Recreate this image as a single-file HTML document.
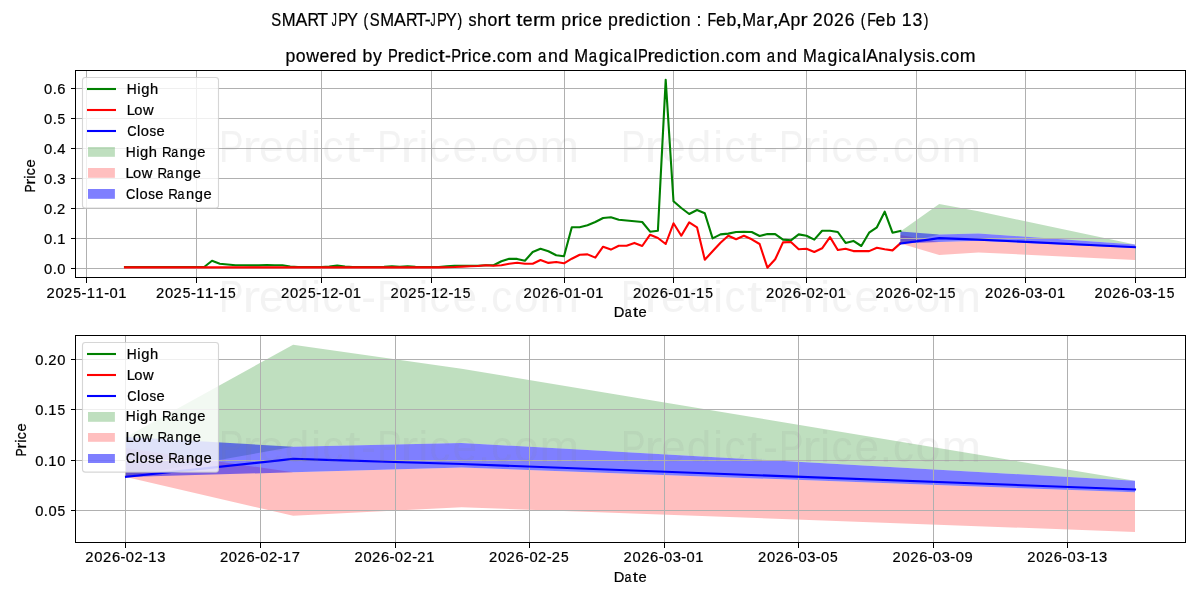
<!DOCTYPE html>
<html><head><meta charset="utf-8"><title>SMART JPY prediction</title>
<style>html,body{margin:0;padding:0;background:#fff;}svg{display:block;}text{font-family:"Liberation Sans", sans-serif;}</style></head><body>
<svg width="1200" height="600" viewBox="0 0 1200 600" style="will-change:transform">
<rect x="0" y="0" width="1200" height="600" fill="#fff"/>
<text x="271.23 281.63 295.51 307.41 317.13 327.59 331.85 338.20 347.05 357.60 363.44 369.80 380.20 394.08 405.98 415.70 424.70 430.53 436.89 445.73 457.53 462.77 468.51 477.10 487.45 497.53 504.38 510.79 516.19 522.85 532.93 539.63 555.57 561.34 571.51 578.62 583.08 592.27 602.25 608.02 618.19 624.81 635.07 645.71 650.18 659.22 666.00 670.45 680.84 690.97 696.61 701.86 707.61 716.05 726.51 735.88 742.15 756.59 766.51 772.54 778.34 790.39 800.56 807.31 812.76 823.56 833.92 844.72 854.91 860.76 867.15 875.59 886.06 896.13 901.71 912.41 923.83" y="25.60" font-size="17.66" stroke="#000" stroke-width="0.22"><tspan textLength="9.91" lengthAdjust="spacingAndGlyphs">S</tspan><tspan textLength="13.84" lengthAdjust="spacingAndGlyphs">M</tspan>A<tspan textLength="11.51" lengthAdjust="spacingAndGlyphs">R</tspan>T <tspan textLength="5.05" lengthAdjust="spacingAndGlyphs">J</tspan><tspan textLength="9.83" lengthAdjust="spacingAndGlyphs">P</tspan><tspan textLength="10.97" lengthAdjust="spacingAndGlyphs">Y</tspan> <tspan textLength="4.69" lengthAdjust="spacingAndGlyphs">(</tspan><tspan textLength="9.91" lengthAdjust="spacingAndGlyphs">S</tspan><tspan textLength="13.84" lengthAdjust="spacingAndGlyphs">M</tspan>A<tspan textLength="11.51" lengthAdjust="spacingAndGlyphs">R</tspan>T-<tspan textLength="5.05" lengthAdjust="spacingAndGlyphs">J</tspan><tspan textLength="9.83" lengthAdjust="spacingAndGlyphs">P</tspan><tspan textLength="10.97" lengthAdjust="spacingAndGlyphs">Y</tspan><tspan textLength="4.69" lengthAdjust="spacingAndGlyphs">)</tspan> <tspan textLength="7.99" lengthAdjust="spacingAndGlyphs">s</tspan>ho<tspan textLength="7.11" lengthAdjust="spacingAndGlyphs">r</tspan><tspan textLength="6.19" lengthAdjust="spacingAndGlyphs">t</tspan> <tspan textLength="6.19" lengthAdjust="spacingAndGlyphs">t</tspan>e<tspan textLength="7.11" lengthAdjust="spacingAndGlyphs">r</tspan><tspan textLength="15.82" lengthAdjust="spacingAndGlyphs">m</tspan> p<tspan textLength="7.11" lengthAdjust="spacingAndGlyphs">r</tspan>i<tspan textLength="8.36" lengthAdjust="spacingAndGlyphs">c</tspan>e p<tspan textLength="7.11" lengthAdjust="spacingAndGlyphs">r</tspan>edi<tspan textLength="8.36" lengthAdjust="spacingAndGlyphs">c</tspan><tspan textLength="6.19" lengthAdjust="spacingAndGlyphs">t</tspan>ion : <tspan textLength="8.73" lengthAdjust="spacingAndGlyphs">F</tspan>eb<tspan textLength="6.38" lengthAdjust="spacingAndGlyphs">,</tspan><tspan textLength="13.84" lengthAdjust="spacingAndGlyphs">M</tspan><tspan textLength="8.34" lengthAdjust="spacingAndGlyphs">a</tspan><tspan textLength="7.11" lengthAdjust="spacingAndGlyphs">r</tspan><tspan textLength="6.38" lengthAdjust="spacingAndGlyphs">,</tspan>Ap<tspan textLength="7.11" lengthAdjust="spacingAndGlyphs">r</tspan> 2026 <tspan textLength="4.69" lengthAdjust="spacingAndGlyphs">(</tspan><tspan textLength="8.73" lengthAdjust="spacingAndGlyphs">F</tspan>eb 13<tspan textLength="4.69" lengthAdjust="spacingAndGlyphs">)</tspan></text>
<text x="285.47 295.73 306.13 319.54 329.61 336.23 346.48 356.75 362.51 373.09 382.41 388.12 397.52 404.14 414.39 425.02 429.49 438.53 445.00 451.35 460.75 467.85 472.31 481.49 491.65 496.95 506.07 516.30 532.23 537.88 548.10 558.51 568.78 574.33 588.76 598.86 609.49 613.95 623.24 633.41 638.10 647.50 654.12 664.37 675.00 679.47 688.51 695.27 699.72 710.10 720.41 725.72 734.83 745.06 761.00 766.64 776.87 787.27 797.54 803.09 817.52 827.62 838.25 842.71 852.00 862.18 866.25 878.21 888.70 898.87 903.65 913.43 921.99 926.70 935.09 940.39 949.51 959.74" y="61.60" font-size="17.66" stroke="#000" stroke-width="0.22">powe<tspan textLength="7.11" lengthAdjust="spacingAndGlyphs">r</tspan>ed by <tspan textLength="9.83" lengthAdjust="spacingAndGlyphs">P</tspan><tspan textLength="7.11" lengthAdjust="spacingAndGlyphs">r</tspan>edi<tspan textLength="8.36" lengthAdjust="spacingAndGlyphs">c</tspan><tspan textLength="6.19" lengthAdjust="spacingAndGlyphs">t</tspan>-<tspan textLength="9.83" lengthAdjust="spacingAndGlyphs">P</tspan><tspan textLength="7.11" lengthAdjust="spacingAndGlyphs">r</tspan>i<tspan textLength="8.36" lengthAdjust="spacingAndGlyphs">c</tspan>e.<tspan textLength="8.36" lengthAdjust="spacingAndGlyphs">c</tspan>o<tspan textLength="15.82" lengthAdjust="spacingAndGlyphs">m</tspan> <tspan textLength="8.34" lengthAdjust="spacingAndGlyphs">a</tspan>nd <tspan textLength="13.84" lengthAdjust="spacingAndGlyphs">M</tspan><tspan textLength="8.34" lengthAdjust="spacingAndGlyphs">a</tspan>gi<tspan textLength="8.36" lengthAdjust="spacingAndGlyphs">c</tspan><tspan textLength="8.34" lengthAdjust="spacingAndGlyphs">a</tspan>l<tspan textLength="9.83" lengthAdjust="spacingAndGlyphs">P</tspan><tspan textLength="7.11" lengthAdjust="spacingAndGlyphs">r</tspan>edi<tspan textLength="8.36" lengthAdjust="spacingAndGlyphs">c</tspan><tspan textLength="6.19" lengthAdjust="spacingAndGlyphs">t</tspan>ion.<tspan textLength="8.36" lengthAdjust="spacingAndGlyphs">c</tspan>o<tspan textLength="15.82" lengthAdjust="spacingAndGlyphs">m</tspan> <tspan textLength="8.34" lengthAdjust="spacingAndGlyphs">a</tspan>nd <tspan textLength="13.84" lengthAdjust="spacingAndGlyphs">M</tspan><tspan textLength="8.34" lengthAdjust="spacingAndGlyphs">a</tspan>gi<tspan textLength="8.36" lengthAdjust="spacingAndGlyphs">c</tspan><tspan textLength="8.34" lengthAdjust="spacingAndGlyphs">a</tspan>lAn<tspan textLength="8.34" lengthAdjust="spacingAndGlyphs">a</tspan>ly<tspan textLength="7.99" lengthAdjust="spacingAndGlyphs">s</tspan>i<tspan textLength="7.99" lengthAdjust="spacingAndGlyphs">s</tspan>.<tspan textLength="8.36" lengthAdjust="spacingAndGlyphs">c</tspan>o<tspan textLength="15.82" lengthAdjust="spacingAndGlyphs">m</tspan></text>
<clipPath id="c1"><rect x="75.5" y="70.5" width="1110.00" height="207.00"/></clipPath>
<clipPath id="c2"><rect x="75.5" y="335.5" width="1110.00" height="207.00"/></clipPath>
<g clip-path="url(#c1)">
<polygon points="900.4,231.6 939.2,204.1 978.4,211.2 1135.0,244.6 1135.0,244.6 978.4,233.4 939.2,234.5 900.4,243.4" fill="rgb(0,128,0)" fill-opacity="0.25"/>
<polygon points="900.4,234.9 939.2,242.1 978.4,240.7 1135.0,248.1 1135.0,259.9 978.4,252.5 939.2,255.1 900.4,243.5" fill="rgb(255,0,0)" fill-opacity="0.25"/>
<polygon points="900.4,231.6 939.2,234.5 978.4,233.4 1135.0,244.6 1135.0,248.1 978.4,240.7 939.2,242.1 900.4,243.5" fill="rgb(0,0,255)" fill-opacity="0.5"/>
</g>
<line x1="86.5" y1="70.5" x2="86.5" y2="277.5" stroke="#b0b0b0" stroke-width="1.0" shape-rendering="crispEdges"/>
<line x1="196.5" y1="70.5" x2="196.5" y2="277.5" stroke="#b0b0b0" stroke-width="1.0" shape-rendering="crispEdges"/>
<line x1="321.5" y1="70.5" x2="321.5" y2="277.5" stroke="#b0b0b0" stroke-width="1.0" shape-rendering="crispEdges"/>
<line x1="431.5" y1="70.5" x2="431.5" y2="277.5" stroke="#b0b0b0" stroke-width="1.0" shape-rendering="crispEdges"/>
<line x1="564.5" y1="70.5" x2="564.5" y2="277.5" stroke="#b0b0b0" stroke-width="1.0" shape-rendering="crispEdges"/>
<line x1="673.5" y1="70.5" x2="673.5" y2="277.5" stroke="#b0b0b0" stroke-width="1.0" shape-rendering="crispEdges"/>
<line x1="806.5" y1="70.5" x2="806.5" y2="277.5" stroke="#b0b0b0" stroke-width="1.0" shape-rendering="crispEdges"/>
<line x1="916.5" y1="70.5" x2="916.5" y2="277.5" stroke="#b0b0b0" stroke-width="1.0" shape-rendering="crispEdges"/>
<line x1="1025.5" y1="70.5" x2="1025.5" y2="277.5" stroke="#b0b0b0" stroke-width="1.0" shape-rendering="crispEdges"/>
<line x1="1135.5" y1="70.5" x2="1135.5" y2="277.5" stroke="#b0b0b0" stroke-width="1.0" shape-rendering="crispEdges"/>
<line x1="75.5" y1="268.5" x2="1185.5" y2="268.5" stroke="#b0b0b0" stroke-width="1.0" shape-rendering="crispEdges"/>
<line x1="75.5" y1="238.5" x2="1185.5" y2="238.5" stroke="#b0b0b0" stroke-width="1.0" shape-rendering="crispEdges"/>
<line x1="75.5" y1="208.5" x2="1185.5" y2="208.5" stroke="#b0b0b0" stroke-width="1.0" shape-rendering="crispEdges"/>
<line x1="75.5" y1="178.5" x2="1185.5" y2="178.5" stroke="#b0b0b0" stroke-width="1.0" shape-rendering="crispEdges"/>
<line x1="75.5" y1="148.5" x2="1185.5" y2="148.5" stroke="#b0b0b0" stroke-width="1.0" shape-rendering="crispEdges"/>
<line x1="75.5" y1="118.5" x2="1185.5" y2="118.5" stroke="#b0b0b0" stroke-width="1.0" shape-rendering="crispEdges"/>
<line x1="75.5" y1="88.5" x2="1185.5" y2="88.5" stroke="#b0b0b0" stroke-width="1.0" shape-rendering="crispEdges"/>
<g clip-path="url(#c1)">
<polyline points="125.0,267.0 133.8,267.0 141.6,267.0 149.4,267.0 157.2,267.0 165.1,267.0 172.9,267.0 180.7,267.0 188.5,267.0 196.4,267.0 204.2,267.0 212.0,260.8 219.8,263.7 227.6,264.5 235.5,265.2 243.3,265.3 251.1,265.4 258.9,265.4 266.8,265.0 274.6,265.2 282.4,265.3 290.2,266.5 298.0,267.0 305.9,267.0 313.7,267.0 321.5,267.0 329.3,266.6 337.2,265.6 345.0,266.5 352.8,267.0 360.6,267.0 368.4,267.0 376.3,267.0 384.1,266.9 391.9,266.3 399.7,266.9 407.6,266.3 415.4,266.9 423.2,267.0 431.0,267.0 438.8,267.0 446.7,266.3 454.5,265.9 462.3,265.7 470.1,265.8 478.0,265.7 485.8,265.3 493.6,265.3 501.4,261.3 509.2,258.7 517.1,258.9 524.9,260.7 532.7,252.0 540.5,248.8 548.4,251.3 556.2,255.3 564.0,256.3 571.8,227.3 579.7,227.3 587.5,225.3 595.3,222.0 603.1,218.0 610.9,217.3 618.8,219.7 626.6,220.5 634.4,221.3 642.2,222.0 650.1,231.7 657.9,230.7 665.7,79.9 673.5,201.3 681.3,208.0 689.2,214.0 697.0,210.0 704.8,213.3 712.6,238.4 720.5,234.4 728.3,233.6 736.1,232.0 743.9,231.7 751.7,232.0 759.6,236.0 767.4,234.0 775.2,234.1 783.0,239.6 790.9,240.3 798.7,234.4 806.5,235.7 814.3,239.6 822.1,230.7 830.0,230.7 837.8,232.0 845.6,242.9 853.4,240.9 861.3,246.0 869.1,232.7 876.9,227.3 884.7,211.7 892.5,232.7 900.4,230.9" fill="none" stroke="#008000" stroke-width="2.1" stroke-linejoin="round" stroke-linecap="square"/>
<polyline points="125.0,267.4 133.8,267.4 141.6,267.4 149.4,267.4 157.2,267.4 165.1,267.4 172.9,267.4 180.7,267.4 188.5,267.4 196.4,267.4 204.2,267.4 212.0,267.4 219.8,267.4 227.6,267.4 235.5,267.4 243.3,267.4 251.1,267.4 258.9,267.4 266.8,267.4 274.6,267.4 282.4,267.4 290.2,267.4 298.0,267.4 305.9,267.4 313.7,267.4 321.5,267.4 329.3,267.4 337.2,267.4 345.0,267.4 352.8,267.4 360.6,267.4 368.4,267.4 376.3,267.4 384.1,267.4 391.9,267.4 399.7,267.4 407.6,267.4 415.4,267.4 423.2,267.4 431.0,267.4 438.8,267.4 446.7,267.2 454.5,267.0 462.3,266.6 470.1,266.2 478.0,266.0 485.8,265.3 493.6,265.7 501.4,265.3 509.2,263.7 517.1,262.7 524.9,263.7 532.7,263.7 540.5,260.0 548.4,262.9 556.2,262.0 564.0,263.3 571.8,258.7 579.7,254.7 587.5,254.4 595.3,257.6 603.1,246.7 610.9,249.6 618.8,245.7 626.6,245.7 634.4,242.9 642.2,246.0 650.1,234.7 657.9,238.0 665.7,244.0 673.5,223.3 681.3,235.7 689.2,222.4 697.0,227.3 704.8,259.7 712.6,251.3 720.5,242.7 728.3,235.7 736.1,239.3 743.9,235.7 751.7,239.3 759.6,244.0 767.4,267.7 775.2,259.3 783.0,242.4 790.9,242.0 798.7,249.3 806.5,248.7 814.3,252.0 822.1,248.3 830.0,237.1 837.8,250.0 845.6,248.7 853.4,251.1 861.3,251.1 869.1,251.1 876.9,247.7 884.7,249.3 892.5,250.4 900.4,243.3" fill="none" stroke="#ff0000" stroke-width="2.1" stroke-linejoin="round" stroke-linecap="square"/>
<polyline points="900.4,243.5 939.2,238.1 978.4,239.6 1135.0,247.2" fill="none" stroke="#0000ff" stroke-width="2.1" stroke-linejoin="round" stroke-linecap="square"/>
</g>
<line x1="86.5" y1="277.5" x2="86.5" y2="282.5" stroke="#000" stroke-width="1" shape-rendering="crispEdges"/>
<line x1="196.5" y1="277.5" x2="196.5" y2="282.5" stroke="#000" stroke-width="1" shape-rendering="crispEdges"/>
<line x1="321.5" y1="277.5" x2="321.5" y2="282.5" stroke="#000" stroke-width="1" shape-rendering="crispEdges"/>
<line x1="431.5" y1="277.5" x2="431.5" y2="282.5" stroke="#000" stroke-width="1" shape-rendering="crispEdges"/>
<line x1="564.5" y1="277.5" x2="564.5" y2="282.5" stroke="#000" stroke-width="1" shape-rendering="crispEdges"/>
<line x1="673.5" y1="277.5" x2="673.5" y2="282.5" stroke="#000" stroke-width="1" shape-rendering="crispEdges"/>
<line x1="806.5" y1="277.5" x2="806.5" y2="282.5" stroke="#000" stroke-width="1" shape-rendering="crispEdges"/>
<line x1="916.5" y1="277.5" x2="916.5" y2="282.5" stroke="#000" stroke-width="1" shape-rendering="crispEdges"/>
<line x1="1025.5" y1="277.5" x2="1025.5" y2="282.5" stroke="#000" stroke-width="1" shape-rendering="crispEdges"/>
<line x1="1135.5" y1="277.5" x2="1135.5" y2="282.5" stroke="#000" stroke-width="1" shape-rendering="crispEdges"/>
<line x1="70.5" y1="268.5" x2="75.5" y2="268.5" stroke="#000" stroke-width="1" shape-rendering="crispEdges"/>
<line x1="70.5" y1="238.5" x2="75.5" y2="238.5" stroke="#000" stroke-width="1" shape-rendering="crispEdges"/>
<line x1="70.5" y1="208.5" x2="75.5" y2="208.5" stroke="#000" stroke-width="1" shape-rendering="crispEdges"/>
<line x1="70.5" y1="178.5" x2="75.5" y2="178.5" stroke="#000" stroke-width="1" shape-rendering="crispEdges"/>
<line x1="70.5" y1="148.5" x2="75.5" y2="148.5" stroke="#000" stroke-width="1" shape-rendering="crispEdges"/>
<line x1="70.5" y1="118.5" x2="75.5" y2="118.5" stroke="#000" stroke-width="1" shape-rendering="crispEdges"/>
<line x1="70.5" y1="88.5" x2="75.5" y2="88.5" stroke="#000" stroke-width="1" shape-rendering="crispEdges"/>
<rect x="75.5" y="70.5" width="1110.00" height="207.00" fill="none" stroke="#000" stroke-width="1" shape-rendering="crispEdges"/>
<text x="46.42 55.41 64.04 73.23 81.58 86.77 95.58 104.19 109.46 118.19" y="297.70" font-size="14.72" stroke="#000" stroke-width="0.22">202<tspan textLength="7.68" lengthAdjust="spacingAndGlyphs">5</tspan>-11-01</text>
<text x="155.94 164.93 173.56 182.74 191.09 196.28 205.09 213.71 218.90 227.98" y="297.70" font-size="14.72" stroke="#000" stroke-width="0.22">202<tspan textLength="7.68" lengthAdjust="spacingAndGlyphs">5</tspan>-11-1<tspan textLength="7.68" lengthAdjust="spacingAndGlyphs">5</tspan></text>
<text x="281.09 290.09 298.71 307.90 316.25 321.44 330.14 338.87 344.13 352.86" y="297.70" font-size="14.72" stroke="#000" stroke-width="0.22">202<tspan textLength="7.68" lengthAdjust="spacingAndGlyphs">5</tspan>-12-01</text>
<text x="390.61 399.60 408.23 417.42 425.76 430.95 439.65 448.38 453.57 462.65" y="297.70" font-size="14.72" stroke="#000" stroke-width="0.22">202<tspan textLength="7.68" lengthAdjust="spacingAndGlyphs">5</tspan>-12-1<tspan textLength="7.68" lengthAdjust="spacingAndGlyphs">5</tspan></text>
<text x="523.59 532.58 541.21 550.20 558.74 564.01 572.74 581.36 586.62 595.36" y="297.70" font-size="14.72" stroke="#000" stroke-width="0.22">2026-01-01</text>
<text x="633.10 642.09 650.72 659.72 668.26 673.52 682.26 690.87 696.06 705.14" y="297.70" font-size="14.72" stroke="#000" stroke-width="0.22">2026-01-1<tspan textLength="7.68" lengthAdjust="spacingAndGlyphs">5</tspan></text>
<text x="766.08 775.08 783.70 792.70 801.24 806.50 815.13 823.86 829.12 837.85" y="297.70" font-size="14.72" stroke="#000" stroke-width="0.22">2026-02-01</text>
<text x="875.60 884.59 893.22 902.21 910.75 916.02 924.64 933.37 938.56 947.64" y="297.70" font-size="14.72" stroke="#000" stroke-width="0.22">2026-02-1<tspan textLength="7.68" lengthAdjust="spacingAndGlyphs">5</tspan></text>
<text x="985.11 994.10 1002.73 1011.72 1020.27 1025.53 1034.36 1042.88 1048.15 1056.88" y="297.70" font-size="14.72" stroke="#000" stroke-width="0.22">2026-03-01</text>
<text x="1094.62 1103.62 1112.24 1121.24 1129.78 1135.04 1143.87 1152.40 1157.58 1166.67" y="297.70" font-size="14.72" stroke="#000" stroke-width="0.22">2026-03-1<tspan textLength="7.68" lengthAdjust="spacingAndGlyphs">5</tspan></text>
<text x="44.03 52.68 57.25" y="273.80" font-size="14.72" stroke="#000" stroke-width="0.22">0.0</text>
<text x="44.03 52.68 57.17" y="243.80" font-size="14.72" stroke="#000" stroke-width="0.22">0.1</text>
<text x="44.03 52.68 57.06" y="213.80" font-size="14.72" stroke="#000" stroke-width="0.22">0.2</text>
<text x="44.03 52.68 57.27" y="183.80" font-size="14.72" stroke="#000" stroke-width="0.22">0.3</text>
<text x="44.03 52.68 57.25" y="153.80" font-size="14.72" stroke="#000" stroke-width="0.22">0.4</text>
<text x="44.03 52.68 57.44" y="123.80" font-size="14.72" stroke="#000" stroke-width="0.22">0.<tspan textLength="7.68" lengthAdjust="spacingAndGlyphs">5</tspan></text>
<text x="44.03 52.68 57.25" y="93.80" font-size="14.72" stroke="#000" stroke-width="0.22">0.6</text>
<text x="613.79 624.70 632.98 638.52" y="316.80" font-size="14.72" stroke="#000" stroke-width="0.22">D<tspan textLength="6.95" lengthAdjust="spacingAndGlyphs">a</tspan><tspan textLength="5.16" lengthAdjust="spacingAndGlyphs">t</tspan>e</text>
<text transform="translate(35.00,191.60) rotate(-90)" x="-1.01 6.82 12.74 16.46 24.11" y="0" font-size="14.72" stroke="#000" stroke-width="0.22"><tspan textLength="8.19" lengthAdjust="spacingAndGlyphs">P</tspan><tspan textLength="5.93" lengthAdjust="spacingAndGlyphs">r</tspan>i<tspan textLength="6.97" lengthAdjust="spacingAndGlyphs">c</tspan>e</text>
<g clip-path="url(#c2)">
<polygon points="126.0,437.0 293.1,344.8 461.6,368.7 1135.0,480.8 1135.0,480.8 461.6,443.0 293.1,446.8 126.0,476.5" fill="rgb(0,128,0)" fill-opacity="0.25"/>
<polygon points="126.0,448.0 293.1,472.3 461.6,467.5 1135.0,492.3 1135.0,532.0 461.6,507.2 293.1,515.8 126.0,477.0" fill="rgb(255,0,0)" fill-opacity="0.25"/>
<polygon points="126.0,437.0 293.1,446.8 461.6,443.0 1135.0,480.8 1135.0,492.3 461.6,467.5 293.1,472.3 126.0,477.0" fill="rgb(0,0,255)" fill-opacity="0.5"/>
</g>
<line x1="125.5" y1="335.5" x2="125.5" y2="542.5" stroke="#b0b0b0" stroke-width="1.0" shape-rendering="crispEdges"/>
<line x1="260.5" y1="335.5" x2="260.5" y2="542.5" stroke="#b0b0b0" stroke-width="1.0" shape-rendering="crispEdges"/>
<line x1="395.5" y1="335.5" x2="395.5" y2="542.5" stroke="#b0b0b0" stroke-width="1.0" shape-rendering="crispEdges"/>
<line x1="529.5" y1="335.5" x2="529.5" y2="542.5" stroke="#b0b0b0" stroke-width="1.0" shape-rendering="crispEdges"/>
<line x1="664.5" y1="335.5" x2="664.5" y2="542.5" stroke="#b0b0b0" stroke-width="1.0" shape-rendering="crispEdges"/>
<line x1="798.5" y1="335.5" x2="798.5" y2="542.5" stroke="#b0b0b0" stroke-width="1.0" shape-rendering="crispEdges"/>
<line x1="933.5" y1="335.5" x2="933.5" y2="542.5" stroke="#b0b0b0" stroke-width="1.0" shape-rendering="crispEdges"/>
<line x1="1067.5" y1="335.5" x2="1067.5" y2="542.5" stroke="#b0b0b0" stroke-width="1.0" shape-rendering="crispEdges"/>
<line x1="75.5" y1="510.5" x2="1185.5" y2="510.5" stroke="#b0b0b0" stroke-width="1.0" shape-rendering="crispEdges"/>
<line x1="75.5" y1="460.5" x2="1185.5" y2="460.5" stroke="#b0b0b0" stroke-width="1.0" shape-rendering="crispEdges"/>
<line x1="75.5" y1="409.5" x2="1185.5" y2="409.5" stroke="#b0b0b0" stroke-width="1.0" shape-rendering="crispEdges"/>
<line x1="75.5" y1="359.5" x2="1185.5" y2="359.5" stroke="#b0b0b0" stroke-width="1.0" shape-rendering="crispEdges"/>
<g clip-path="url(#c2)">
<polyline points="126.0,476.8 293.1,458.9 461.6,464.0 1135.0,489.5" fill="none" stroke="#0000ff" stroke-width="2.1" stroke-linejoin="round" stroke-linecap="square"/>
</g>
<line x1="125.5" y1="542.5" x2="125.5" y2="547.5" stroke="#000" stroke-width="1" shape-rendering="crispEdges"/>
<line x1="260.5" y1="542.5" x2="260.5" y2="547.5" stroke="#000" stroke-width="1" shape-rendering="crispEdges"/>
<line x1="395.5" y1="542.5" x2="395.5" y2="547.5" stroke="#000" stroke-width="1" shape-rendering="crispEdges"/>
<line x1="529.5" y1="542.5" x2="529.5" y2="547.5" stroke="#000" stroke-width="1" shape-rendering="crispEdges"/>
<line x1="664.5" y1="542.5" x2="664.5" y2="547.5" stroke="#000" stroke-width="1" shape-rendering="crispEdges"/>
<line x1="798.5" y1="542.5" x2="798.5" y2="547.5" stroke="#000" stroke-width="1" shape-rendering="crispEdges"/>
<line x1="933.5" y1="542.5" x2="933.5" y2="547.5" stroke="#000" stroke-width="1" shape-rendering="crispEdges"/>
<line x1="1067.5" y1="542.5" x2="1067.5" y2="547.5" stroke="#000" stroke-width="1" shape-rendering="crispEdges"/>
<line x1="70.5" y1="510.5" x2="75.5" y2="510.5" stroke="#000" stroke-width="1" shape-rendering="crispEdges"/>
<line x1="70.5" y1="460.5" x2="75.5" y2="460.5" stroke="#000" stroke-width="1" shape-rendering="crispEdges"/>
<line x1="70.5" y1="409.5" x2="75.5" y2="409.5" stroke="#000" stroke-width="1" shape-rendering="crispEdges"/>
<line x1="70.5" y1="359.5" x2="75.5" y2="359.5" stroke="#000" stroke-width="1" shape-rendering="crispEdges"/>
<rect x="75.5" y="335.5" width="1110.00" height="207.00" fill="none" stroke="#000" stroke-width="1" shape-rendering="crispEdges"/>
<text x="85.33 94.32 102.95 111.95 120.49 125.75 134.38 143.10 148.29 157.20" y="561.80" font-size="14.72" stroke="#000" stroke-width="0.22">2026-02-13</text>
<text x="219.88 228.87 237.50 246.49 255.03 260.30 268.92 277.65 282.84 291.69" y="561.80" font-size="14.72" stroke="#000" stroke-width="0.22">2026-02-17</text>
<text x="354.42 363.41 372.04 381.03 389.58 394.84 403.47 412.19 417.27 426.19" y="561.80" font-size="14.72" stroke="#000" stroke-width="0.22">2026-02-21</text>
<text x="488.96 497.96 506.58 515.58 524.12 529.38 538.01 546.74 551.82 561.01" y="561.80" font-size="14.72" stroke="#000" stroke-width="0.22">2026-02-2<tspan textLength="7.68" lengthAdjust="spacingAndGlyphs">5</tspan></text>
<text x="623.51 632.50 641.13 650.12 658.66 663.93 672.76 681.28 686.54 695.28" y="561.80" font-size="14.72" stroke="#000" stroke-width="0.22">2026-03-01</text>
<text x="758.05 767.04 775.67 784.67 793.21 798.47 807.30 815.82 821.09 830.09" y="561.80" font-size="14.72" stroke="#000" stroke-width="0.22">2026-03-0<tspan textLength="7.68" lengthAdjust="spacingAndGlyphs">5</tspan></text>
<text x="892.60 901.59 910.22 919.21 927.75 933.02 941.84 950.37 955.63 964.40" y="561.80" font-size="14.72" stroke="#000" stroke-width="0.22">2026-03-09</text>
<text x="1027.14 1036.13 1044.76 1053.75 1062.30 1067.56 1076.39 1084.91 1090.10 1099.01" y="561.80" font-size="14.72" stroke="#000" stroke-width="0.22">2026-03-13</text>
<text x="35.20 43.84 48.41 57.42" y="515.70" font-size="14.72" stroke="#000" stroke-width="0.22">0.0<tspan textLength="7.68" lengthAdjust="spacingAndGlyphs">5</tspan></text>
<text x="35.20 43.84 48.33 57.22" y="465.70" font-size="14.72" stroke="#000" stroke-width="0.22">0.10</text>
<text x="35.20 43.84 48.33 57.42" y="414.70" font-size="14.72" stroke="#000" stroke-width="0.22">0.1<tspan textLength="7.68" lengthAdjust="spacingAndGlyphs">5</tspan></text>
<text x="35.20 43.84 48.23 57.22" y="364.70" font-size="14.72" stroke="#000" stroke-width="0.22">0.20</text>
<text x="613.69 624.60 632.88 638.42" y="581.80" font-size="14.72" stroke="#000" stroke-width="0.22">D<tspan textLength="6.95" lengthAdjust="spacingAndGlyphs">a</tspan><tspan textLength="5.16" lengthAdjust="spacingAndGlyphs">t</tspan>e</text>
<text transform="translate(26.00,455.60) rotate(-90)" x="-1.01 6.82 12.74 16.46 24.11" y="0" font-size="14.72" stroke="#000" stroke-width="0.22"><tspan textLength="8.19" lengthAdjust="spacingAndGlyphs">P</tspan><tspan textLength="5.93" lengthAdjust="spacingAndGlyphs">r</tspan>i<tspan textLength="6.97" lengthAdjust="spacingAndGlyphs">c</tspan>e</text>
<text x="219.08 242.57 259.12 284.76 311.33 322.49 345.08 361.26 377.15 400.64 418.39 429.55 452.49 477.89 491.15 513.95 539.52" y="161.70" font-size="44.15" fill="#808080" fill-opacity="0.095"><tspan textLength="24.58" lengthAdjust="spacingAndGlyphs">P</tspan><tspan textLength="17.78" lengthAdjust="spacingAndGlyphs">r</tspan>edi<tspan textLength="20.90" lengthAdjust="spacingAndGlyphs">c</tspan><tspan textLength="15.47" lengthAdjust="spacingAndGlyphs">t</tspan>-<tspan textLength="24.58" lengthAdjust="spacingAndGlyphs">P</tspan><tspan textLength="17.78" lengthAdjust="spacingAndGlyphs">r</tspan>i<tspan textLength="20.90" lengthAdjust="spacingAndGlyphs">c</tspan>e.<tspan textLength="20.90" lengthAdjust="spacingAndGlyphs">c</tspan>o<tspan textLength="39.55" lengthAdjust="spacingAndGlyphs">m</tspan></text>
<text x="620.98 644.47 661.02 686.66 713.23 724.39 746.98 763.16 779.05 802.54 820.29 831.45 854.39 879.79 893.05 915.85 941.42" y="161.70" font-size="44.15" fill="#808080" fill-opacity="0.095"><tspan textLength="24.58" lengthAdjust="spacingAndGlyphs">P</tspan><tspan textLength="17.78" lengthAdjust="spacingAndGlyphs">r</tspan>edi<tspan textLength="20.90" lengthAdjust="spacingAndGlyphs">c</tspan><tspan textLength="15.47" lengthAdjust="spacingAndGlyphs">t</tspan>-<tspan textLength="24.58" lengthAdjust="spacingAndGlyphs">P</tspan><tspan textLength="17.78" lengthAdjust="spacingAndGlyphs">r</tspan>i<tspan textLength="20.90" lengthAdjust="spacingAndGlyphs">c</tspan>e.<tspan textLength="20.90" lengthAdjust="spacingAndGlyphs">c</tspan>o<tspan textLength="39.55" lengthAdjust="spacingAndGlyphs">m</tspan></text>
<text x="219.08 242.57 259.12 284.76 311.33 322.49 345.08 361.26 377.15 400.64 418.39 429.55 452.49 477.89 491.15 513.95 539.52" y="311.70" font-size="44.15" fill="#808080" fill-opacity="0.095"><tspan textLength="24.58" lengthAdjust="spacingAndGlyphs">P</tspan><tspan textLength="17.78" lengthAdjust="spacingAndGlyphs">r</tspan>edi<tspan textLength="20.90" lengthAdjust="spacingAndGlyphs">c</tspan><tspan textLength="15.47" lengthAdjust="spacingAndGlyphs">t</tspan>-<tspan textLength="24.58" lengthAdjust="spacingAndGlyphs">P</tspan><tspan textLength="17.78" lengthAdjust="spacingAndGlyphs">r</tspan>i<tspan textLength="20.90" lengthAdjust="spacingAndGlyphs">c</tspan>e.<tspan textLength="20.90" lengthAdjust="spacingAndGlyphs">c</tspan>o<tspan textLength="39.55" lengthAdjust="spacingAndGlyphs">m</tspan></text>
<text x="620.98 644.47 661.02 686.66 713.23 724.39 746.98 763.16 779.05 802.54 820.29 831.45 854.39 879.79 893.05 915.85 941.42" y="311.70" font-size="44.15" fill="#808080" fill-opacity="0.095"><tspan textLength="24.58" lengthAdjust="spacingAndGlyphs">P</tspan><tspan textLength="17.78" lengthAdjust="spacingAndGlyphs">r</tspan>edi<tspan textLength="20.90" lengthAdjust="spacingAndGlyphs">c</tspan><tspan textLength="15.47" lengthAdjust="spacingAndGlyphs">t</tspan>-<tspan textLength="24.58" lengthAdjust="spacingAndGlyphs">P</tspan><tspan textLength="17.78" lengthAdjust="spacingAndGlyphs">r</tspan>i<tspan textLength="20.90" lengthAdjust="spacingAndGlyphs">c</tspan>e.<tspan textLength="20.90" lengthAdjust="spacingAndGlyphs">c</tspan>o<tspan textLength="39.55" lengthAdjust="spacingAndGlyphs">m</tspan></text>
<text x="219.08 242.57 259.12 284.76 311.33 322.49 345.08 361.26 377.15 400.64 418.39 429.55 452.49 477.89 491.15 513.95 539.52" y="461.70" font-size="44.15" fill="#808080" fill-opacity="0.095"><tspan textLength="24.58" lengthAdjust="spacingAndGlyphs">P</tspan><tspan textLength="17.78" lengthAdjust="spacingAndGlyphs">r</tspan>edi<tspan textLength="20.90" lengthAdjust="spacingAndGlyphs">c</tspan><tspan textLength="15.47" lengthAdjust="spacingAndGlyphs">t</tspan>-<tspan textLength="24.58" lengthAdjust="spacingAndGlyphs">P</tspan><tspan textLength="17.78" lengthAdjust="spacingAndGlyphs">r</tspan>i<tspan textLength="20.90" lengthAdjust="spacingAndGlyphs">c</tspan>e.<tspan textLength="20.90" lengthAdjust="spacingAndGlyphs">c</tspan>o<tspan textLength="39.55" lengthAdjust="spacingAndGlyphs">m</tspan></text>
<text x="620.98 644.47 661.02 686.66 713.23 724.39 746.98 763.16 779.05 802.54 820.29 831.45 854.39 879.79 893.05 915.85 941.42" y="461.70" font-size="44.15" fill="#808080" fill-opacity="0.095"><tspan textLength="24.58" lengthAdjust="spacingAndGlyphs">P</tspan><tspan textLength="17.78" lengthAdjust="spacingAndGlyphs">r</tspan>edi<tspan textLength="20.90" lengthAdjust="spacingAndGlyphs">c</tspan><tspan textLength="15.47" lengthAdjust="spacingAndGlyphs">t</tspan>-<tspan textLength="24.58" lengthAdjust="spacingAndGlyphs">P</tspan><tspan textLength="17.78" lengthAdjust="spacingAndGlyphs">r</tspan>i<tspan textLength="20.90" lengthAdjust="spacingAndGlyphs">c</tspan>e.<tspan textLength="20.90" lengthAdjust="spacingAndGlyphs">c</tspan>o<tspan textLength="39.55" lengthAdjust="spacingAndGlyphs">m</tspan></text>
<rect x="82.5" y="77.5" width="136.0" height="130.6" rx="2.8" ry="2.8" fill="#fff" fill-opacity="0.8" stroke="#ccc" stroke-opacity="0.8" stroke-width="1.1"/>
<line x1="87.0" y1="89.00" x2="116.0" y2="89.00" stroke="#008000" stroke-width="2.1"/>
<line x1="87.0" y1="110.00" x2="116.0" y2="110.00" stroke="#ff0000" stroke-width="2.1"/>
<line x1="87.0" y1="131.00" x2="116.0" y2="131.00" stroke="#0000ff" stroke-width="2.1"/>
<rect x="88.0" y="147.00" width="26.9" height="9.80" fill="rgb(0,128,0)" fill-opacity="0.25"/>
<rect x="88.0" y="168.00" width="26.9" height="9.80" fill="rgb(255,0,0)" fill-opacity="0.25"/>
<rect x="88.0" y="189.00" width="26.9" height="9.80" fill="rgb(0,0,255)" fill-opacity="0.5"/>
<text x="126.87 137.35 141.13 150.00" y="94.00" font-size="14.72" stroke="#000" stroke-width="0.22"><tspan textLength="9.98" lengthAdjust="spacingAndGlyphs">H</tspan>igh</text>
<text x="126.70 134.27 142.94" y="115.00" font-size="14.72" stroke="#000" stroke-width="0.22">Low</text>
<text x="127.15 136.98 140.70 149.39 156.43" y="136.00" font-size="14.72" stroke="#000" stroke-width="0.22"><tspan textLength="9.31" lengthAdjust="spacingAndGlyphs">C</tspan>lo<tspan textLength="6.66" lengthAdjust="spacingAndGlyphs">s</tspan>e</text>
<text x="125.67 136.15 139.93 148.80 157.26 161.94 171.28 179.81 188.48 197.24" y="157.00" font-size="14.72" stroke="#000" stroke-width="0.22"><tspan textLength="9.98" lengthAdjust="spacingAndGlyphs">H</tspan>igh <tspan textLength="9.59" lengthAdjust="spacingAndGlyphs">R</tspan><tspan textLength="6.95" lengthAdjust="spacingAndGlyphs">a</tspan>nge</text>
<text x="125.50 133.07 141.74 152.71 157.38 166.73 175.25 183.92 192.68" y="178.00" font-size="14.72" stroke="#000" stroke-width="0.22">Low <tspan textLength="9.59" lengthAdjust="spacingAndGlyphs">R</tspan><tspan textLength="6.95" lengthAdjust="spacingAndGlyphs">a</tspan>nge</text>
<text x="125.95 135.78 139.50 148.19 155.23 163.54 168.22 177.56 186.08 194.76 203.52" y="199.00" font-size="14.72" stroke="#000" stroke-width="0.22"><tspan textLength="9.31" lengthAdjust="spacingAndGlyphs">C</tspan>lo<tspan textLength="6.66" lengthAdjust="spacingAndGlyphs">s</tspan>e <tspan textLength="9.59" lengthAdjust="spacingAndGlyphs">R</tspan><tspan textLength="6.95" lengthAdjust="spacingAndGlyphs">a</tspan>nge</text>
<rect x="82.5" y="342.5" width="136.0" height="129.6" rx="2.8" ry="2.8" fill="#fff" fill-opacity="0.8" stroke="#ccc" stroke-opacity="0.8" stroke-width="1.1"/>
<line x1="87.0" y1="354.00" x2="116.0" y2="354.00" stroke="#008000" stroke-width="2.1"/>
<line x1="87.0" y1="375.00" x2="116.0" y2="375.00" stroke="#ff0000" stroke-width="2.1"/>
<line x1="87.0" y1="396.00" x2="116.0" y2="396.00" stroke="#0000ff" stroke-width="2.1"/>
<rect x="88.0" y="412.00" width="26.9" height="9.80" fill="rgb(0,128,0)" fill-opacity="0.25"/>
<rect x="88.0" y="433.00" width="26.9" height="8.80" fill="rgb(255,0,0)" fill-opacity="0.25"/>
<rect x="88.0" y="454.00" width="26.9" height="9.00" fill="rgb(0,0,255)" fill-opacity="0.5"/>
<text x="126.87 137.35 141.13 150.00" y="359.00" font-size="14.72" stroke="#000" stroke-width="0.22"><tspan textLength="9.98" lengthAdjust="spacingAndGlyphs">H</tspan>igh</text>
<text x="126.70 134.27 142.94" y="380.00" font-size="14.72" stroke="#000" stroke-width="0.22">Low</text>
<text x="127.15 136.98 140.70 149.39 156.43" y="401.00" font-size="14.72" stroke="#000" stroke-width="0.22"><tspan textLength="9.31" lengthAdjust="spacingAndGlyphs">C</tspan>lo<tspan textLength="6.66" lengthAdjust="spacingAndGlyphs">s</tspan>e</text>
<text x="125.67 136.15 139.93 148.80 157.26 161.94 171.28 179.81 188.48 197.24" y="421.00" font-size="14.72" stroke="#000" stroke-width="0.22"><tspan textLength="9.98" lengthAdjust="spacingAndGlyphs">H</tspan>igh <tspan textLength="9.59" lengthAdjust="spacingAndGlyphs">R</tspan><tspan textLength="6.95" lengthAdjust="spacingAndGlyphs">a</tspan>nge</text>
<text x="125.50 133.07 141.74 152.71 157.38 166.73 175.25 183.92 192.68" y="442.00" font-size="14.72" stroke="#000" stroke-width="0.22">Low <tspan textLength="9.59" lengthAdjust="spacingAndGlyphs">R</tspan><tspan textLength="6.95" lengthAdjust="spacingAndGlyphs">a</tspan>nge</text>
<text x="125.95 135.78 139.50 148.19 155.23 163.54 168.22 177.56 186.08 194.76 203.52" y="463.00" font-size="14.72" stroke="#000" stroke-width="0.22"><tspan textLength="9.31" lengthAdjust="spacingAndGlyphs">C</tspan>lo<tspan textLength="6.66" lengthAdjust="spacingAndGlyphs">s</tspan>e <tspan textLength="9.59" lengthAdjust="spacingAndGlyphs">R</tspan><tspan textLength="6.95" lengthAdjust="spacingAndGlyphs">a</tspan>nge</text>
</svg></body></html>
